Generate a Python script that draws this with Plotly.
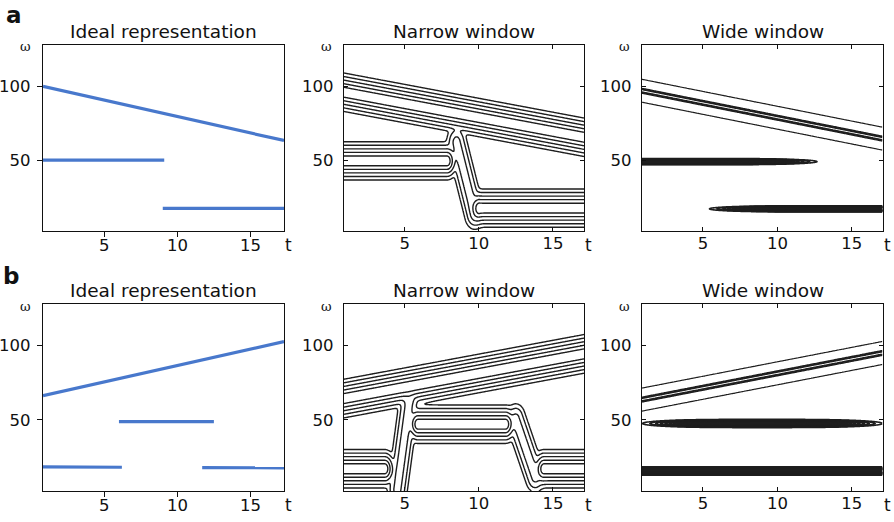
import math
import numpy as np
import plotly.graph_objects as go

# ---------------- data ----------------
T_IDEAL = [0.8, 17.3]
T_TF = [0.9, 17.1]
W_RANGE = [2, 128]
X_TICKS = [5, 10, 15]
Y_TICKS = [50, 100]
TITLES = ["Ideal representation", "Narrow window", "Wide window"]
ROW_LABELS = ["a", "b"]

# ideal representation: straight segments (t0,w0)->(t1,w1)
ideal_a_t0 = [0.8, 0.8, 9.0]
ideal_a_t1 = [17.3, 9.1, 17.3]
ideal_a_w0 = [100.0, 50.0, 17.3]
ideal_a_w1 = [63.3, 50.0, 17.3]

ideal_b_t0 = [0.8, 0.8, 6.0, 11.7]
ideal_b_t1 = [17.3, 6.2, 12.5, 17.3]
ideal_b_w0 = [66.2, 18.2, 48.8, 17.8]
ideal_b_w1 = [102.7, 18.0, 48.8, 17.6]

# narrow window ridges (centre lines)
narrow_a_t0 = [0.9, 0.9, 10.05, 8.5]
narrow_a_t1 = [17.1, 7.85, 17.1, 9.7]
narrow_a_w0 = [96.0, 49.5, 17.5, 62.0]
narrow_a_w1 = [65.5, 49.5, 17.5, 14.0]
narrow_a_amp = [1.0, 1.0, 1.0, 0.15]

narrow_b_t0 = [0.9, 0.9, 5.9, 14.4, 4.5, 12.5]
narrow_b_t1 = [17.1, 3.65, 11.8, 17.1, 5.3, 13.8]
narrow_b_w0 = [64.3, 17.0, 47.0, 17.0, 3.0, 50.0]
narrow_b_w1 = [94.4, 17.0, 47.0, 17.0, 62.0, 12.0]
narrow_b_amp = [1.0, 1.0, 1.0, 1.0, 0.15, 0.15]

# wide window ridges
wide_a_chirp_w = [97.0, 64.5]
wide_a_tone_t0 = [0.9, 8.0]
wide_a_tone_t1 = [10.1, 17.1]
wide_a_tone_w = [49.0, 17.0]

wide_b_chirp_w = [63.6, 95.1]
wide_b_tone_t0 = [3.5, 0.9]
wide_b_tone_t1 = [14.5, 17.1]
wide_b_tone_w = [47.5, 15.5]

# ---------------- rendering parameters ----------------
W_PX, H_PX = 894, 522
COL_X = [(43, 284), (344, 584), (642, 883)]
ROW_Y = [(45, 231), (304, 491)]
BLUE = "#4878cc"
INK = "#1e1e1e"
FONT = "DejaVu Sans"

K_NARROW = 16.0
SIG_NARROW = 3.7
SIG_WIDE_T = 2.0
SIG_WIDE_W = [1.0, 1.3]

erf_v = np.vectorize(math.erf)


def px(x):
    return x / W_PX


def py(y):
    return 1 - y / H_PX


def seg_dist(T, W, t0, w0, t1, w1, k):
    ax, ay, bx, by = k * t0, w0, k * t1, w1
    dx, dy = bx - ax, by - ay
    L2 = dx * dx + dy * dy
    s = np.clip(((k * T - ax) * dx + (W - ay) * dy) / L2, 0, 1)
    return np.hypot(k * T - ax - s * dx, W - ay - s * dy)


def narrow_field(t0s, t1s, w0s, w1s, amps):
    t = np.arange(T_TF[0], T_TF[1] + 1e-9, 0.05)
    w = np.arange(W_RANGE[0], W_RANGE[1] + 1e-9, 0.4)
    T, W = np.meshgrid(t, w)
    z = np.zeros_like(T)
    for t0, t1, w0, w1, a in zip(t0s, t1s, w0s, w1s, amps):
        slope = (w1 - w0) / (t1 - t0)
        if t0 <= T_TF[0] + 1e-6:
            t0, w0 = t0 - 3, w0 - 3 * slope
        if t1 >= T_TF[1] - 1e-6:
            t1, w1 = t1 + 3, w1 + 3 * slope
        d = seg_dist(T, W, t0, w0, t1, w1, K_NARROW)
        z += a * np.exp(-d ** 2 / (2 * SIG_NARROW ** 2))
    g = np.sqrt(-2 * np.log(np.maximum(z, 1e-9)))
    return t, w, np.round(g, 3)


def envelope(t, t0, t1):
    s = math.sqrt(2) * SIG_WIDE_T
    lo = np.ones_like(t) if t0 <= T_TF[0] + 1e-6 else np.asarray(erf_v((t - t0) / s), float)
    hi = -np.ones_like(t) if t1 >= T_TF[1] - 1e-6 else np.asarray(erf_v((t - t1) / s), float)
    return 0.5 * (lo - hi)


def line_contour(x, y, z, start, end, size, xa, ya, width=1.4):
    return go.Contour(
        x=x, y=y, z=z, xaxis=xa, yaxis=ya,
        contours=dict(coloring="lines", start=start, end=end, size=size),
        colorscale=[[0, INK], [1, INK]], showscale=False,
        line=dict(width=width, smoothing=1.0), hoverinfo="skip",
    )


fig = go.Figure()

# ---- ideal panels ----
for r, (t0s, t1s, w0s, w1s) in enumerate([
        (ideal_a_t0, ideal_a_t1, ideal_a_w0, ideal_a_w1),
        (ideal_b_t0, ideal_b_t1, ideal_b_w0, ideal_b_w1)]):
    ax_i = r * 3 + 1
    suf = "" if ax_i == 1 else str(ax_i)
    for t0, t1, w0, w1 in zip(t0s, t1s, w0s, w1s):
        fig.add_trace(go.Scatter(
            x=[t0, t1], y=[w0, w1], mode="lines",
            line=dict(color=BLUE, width=3.2), showlegend=False,
            xaxis=f"x{suf}", yaxis=f"y{suf}", hoverinfo="skip"))

# ---- narrow window panels ----
for r, args in enumerate([
        (narrow_a_t0, narrow_a_t1, narrow_a_w0, narrow_a_w1, narrow_a_amp),
        (narrow_b_t0, narrow_b_t1, narrow_b_w0, narrow_b_w1, narrow_b_amp)]):
    ax_i = r * 3 + 2
    t, w, g = narrow_field(*args)
    fig.add_trace(line_contour(t, w, g, 0.9, 3.5, 0.65, f"x{ax_i}", f"y{ax_i}"))

# ---- wide window panels ----
for r, (cw, tt0, tt1, tw) in enumerate([
        (wide_a_chirp_w, wide_a_tone_t0, wide_a_tone_t1, wide_a_tone_w),
        (wide_b_chirp_w, wide_b_tone_t0, wide_b_tone_t1, wide_b_tone_w)]):
    ax_i = r * 3 + 3
    xa, ya = f"x{ax_i}", f"y{ax_i}"
    t = np.arange(T_TF[0], T_TF[1] + 1e-9, 0.08)
    # chirp
    w = np.arange(min(cw) - 14, max(cw) + 14, 0.2)
    T, W = np.meshgrid(t, w)
    wc = cw[0] + (cw[1] - cw[0]) * (T - T_TF[0]) / (T_TF[1] - T_TF[0])
    d = W - wc
    zb = np.round(np.exp(-d ** 2 / (2 * 5.0 ** 2)), 4)
    zc = np.round(np.exp(-d ** 2 / (2 * 1.0 ** 2)), 4)
    fig.add_trace(line_contour(t, w, zb, 0.3, 0.3, 1.0, xa, ya, width=1.2))
    fig.add_trace(line_contour(t, w, zc, 0.25, 0.75, 0.25, xa, ya, width=1.3))
    # tones
    for t0, t1, wt in zip(tt0, tt1, tw):
        w = np.arange(wt - 6, wt + 6, 0.08)
        E = envelope(t, t0, t1)
        z = E[None, :] * np.exp(-(w[:, None] - wt) ** 2 / (2 * SIG_WIDE_W[r] ** 2))
        fig.add_trace(line_contour(t, w, np.round(z, 4), 0.1, 0.95, 0.05, xa, ya, width=1.6))

# ---- axes ----
layout = dict(
    width=W_PX, height=H_PX, margin=dict(l=0, r=0, t=0, b=0),
    paper_bgcolor="white", plot_bgcolor="white", showlegend=False,
    template="none", font=dict(family=FONT, size=17, color="#111"),
)
annotations = []
for r in range(2):
    for c in range(3):
        i = r * 3 + c + 1
        suf = "" if i == 1 else str(i)
        x0, x1 = COL_X[c]
        y0, y1 = ROW_Y[r]
        ideal = c == 0
        common = dict(
            showline=True, linecolor="#111", linewidth=1.3, mirror=True if ideal else "ticks",
            ticks="outside" if ideal else "inside", ticklen=5 if ideal else 4,
            tickcolor="#111", tickwidth=1.3, showgrid=False, zeroline=False,
            automargin=False, tickfont=dict(family=FONT, size=16.5, color="#111"),
        )
        layout[f"xaxis{suf}"] = dict(
            common, domain=[px(x0), px(x1)], anchor=f"y{suf}",
            range=T_IDEAL if ideal else T_TF, tickvals=X_TICKS,
            ticklabelstandoff=-6 if ideal else -3,
        )
        layout[f"yaxis{suf}"] = dict(
            common, domain=[py(y1), py(y0)], anchor=f"x{suf}",
            range=W_RANGE, tickvals=Y_TICKS,
            ticklabelstandoff=3 if ideal else 6,
        )
        annotations.append(dict(
            x=px((x0 + x1) / 2), y=py(y0 - 14), xref="paper", yref="paper",
            text=TITLES[c], showarrow=False, xanchor="center", yanchor="middle",
            font=dict(family=FONT, size=18.5, color="#111")))
        annotations.append(dict(
            x=px(x1 + 4), y=py(y1 + 14), xref="paper", yref="paper",
            text="t", showarrow=False, xanchor="center", yanchor="middle",
            font=dict(family=FONT, size=17, color="#111")))
        annotations.append(dict(
            x=px(x0 - 18), y=py(y0 + 2), xref="paper", yref="paper",
            text="ω", showarrow=False, xanchor="center", yanchor="middle",
            font=dict(family="DejaVu Serif", size=13, color="#111")))
    annotations.append(dict(
        x=px(14 if r == 0 else 11), y=py(15 if r == 0 else 276), xref="paper", yref="paper",
        text=f"<b>{ROW_LABELS[r]}</b>", showarrow=False, xanchor="center", yanchor="middle",
        font=dict(family=FONT, size=23, color="#111")))
layout["annotations"] = annotations
fig.update_layout(**layout)
fig.write_html("out.html", config={"displayModeBar": False},
               post_script="document.body.style.margin='0';document.body.style.overflow='hidden';")
